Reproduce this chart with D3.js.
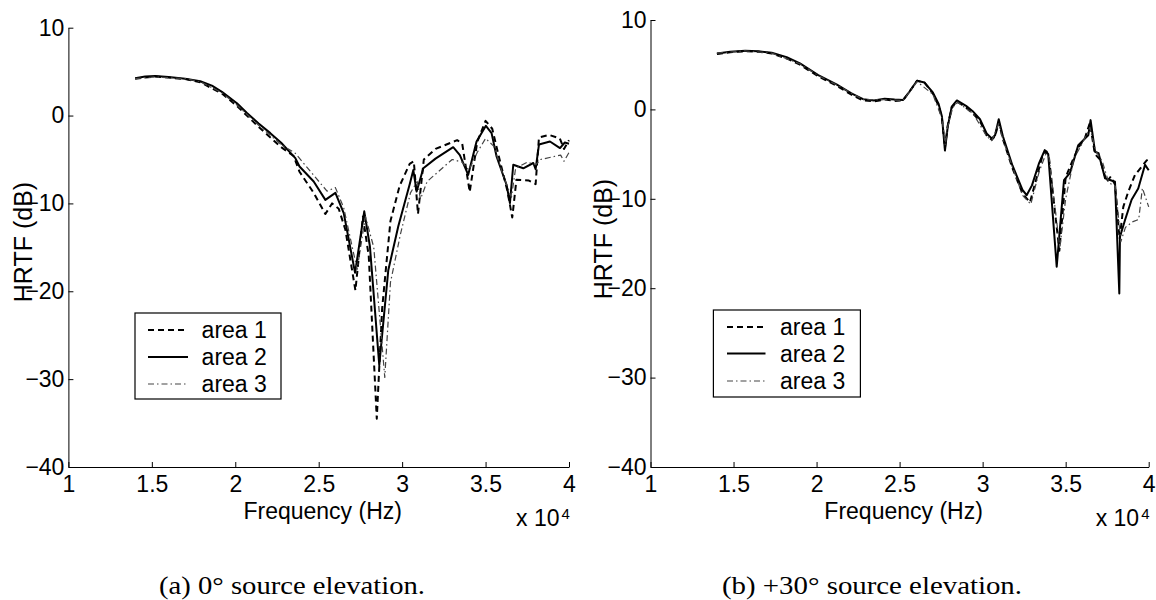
<!DOCTYPE html>
<html>
<head>
<meta charset="utf-8">
<script src="https://cdn.jsdelivr.net/npm/d3@7"></script>
<style>
  html, body { margin: 0; padding: 0; background: #fff; }
  svg { display: block; }
  text { font-family: "Liberation Sans", Arial, Helvetica, sans-serif; fill: #000; }
  .caption { font-family: "Liberation Serif", "Times New Roman", serif; }
</style>
</head>
<body>
<svg id="fig" width="1156" height="600"></svg>
<script>
// Frequency axis in units of 10^4 Hz, HRTF magnitude in dB.
const xTickValues = [1, 1.5, 2, 2.5, 3, 3.5, 4];
const yTickValues = [-40, -30, -20, -10, 0, 10];
const seriesNames = ["area 1", "area 2", "area 3"];

// (a) 0° source elevation
const freqA1 = [1.40,1.52,1.70,1.79,1.92,2.01,2.14,2.275,2.35,2.385,2.47,2.54,2.58,2.62,2.66,2.72,2.765,2.80,2.848,2.88,2.93,2.985,3.045,3.07,3.095,3.13,3.20,3.33,3.36,3.405,3.45,3.50,3.54,3.58,3.63,3.66,3.685,3.76,3.80,3.82,3.88,3.945,3.97,4.00];
const hrtfA1 = [4.2,4.45,4.15,3.8,2.5,1.1,-1.3,-3.6,-4.6,-6.4,-8.8,-11.2,-10.0,-10.6,-13.0,-19.9,-11.5,-16.0,-34.5,-22.0,-12.0,-8.0,-5.5,-5.2,-11.2,-5.0,-3.8,-2.8,-3.2,-8.7,-3.0,-0.6,-1.5,-4.7,-8.5,-11.6,-7.3,-7.4,-7.8,-2.5,-2.2,-2.6,-3.8,-2.8];
const freqA2 = [1.40,1.46,1.52,1.60,1.70,1.79,1.86,1.92,2.01,2.07,2.14,2.21,2.275,2.36,2.385,2.47,2.54,2.60,2.65,2.718,2.773,2.807,2.863,2.917,2.977,3.047,3.067,3.087,3.127,3.20,3.306,3.346,3.396,3.446,3.502,3.536,3.566,3.626,3.646,3.666,3.726,3.786,3.80,3.82,3.886,3.946,3.975,4.00];
const hrtfA2 = [4.25,4.45,4.5,4.4,4.2,3.9,3.4,2.7,1.4,0.3,-0.9,-2.0,-3.1,-4.85,-5.8,-7.5,-9.6,-8.8,-11.1,-17.9,-10.9,-14.9,-28.4,-17.6,-12.6,-7.7,-6.2,-8.65,-6.0,-4.9,-3.6,-4.5,-6.75,-2.95,-1.17,-2.0,-4.66,-7.9,-9.97,-5.6,-6.0,-5.4,-6.1,-3.3,-2.95,-3.7,-3.07,-3.2];
const freqA3 = [1.40,1.52,1.70,1.79,1.92,2.01,2.14,2.275,2.36,2.47,2.55,2.60,2.65,2.73,2.78,2.83,2.896,2.93,2.99,3.05,3.09,3.11,3.15,3.30,3.36,3.40,3.45,3.50,3.55,3.60,3.655,3.68,3.75,3.80,3.83,3.90,3.95,3.97,4.00];
const hrtfA3 = [4.2,4.4,4.2,3.85,2.6,1.2,-1.1,-3.3,-4.3,-6.8,-8.6,-8.2,-10.5,-17.5,-11.5,-15.0,-29.8,-19.0,-13.5,-8.8,-7.5,-9.5,-7.5,-5.0,-5.3,-6.2,-4.2,-2.6,-3.5,-6.5,-9.3,-6.0,-5.3,-5.6,-5.0,-4.7,-4.5,-5.2,-4.2];

// (b) +30° source elevation
const freqB1 = [1.40,1.48,1.57,1.65,1.73,1.82,1.90,2.01,2.12,2.21,2.28,2.345,2.41,2.47,2.52,2.56,2.605,2.65,2.70,2.735,2.755,2.773,2.79,2.814,2.845,2.90,2.944,2.984,3.024,3.055,3.075,3.097,3.122,3.18,3.24,3.285,3.32,3.36,3.385,3.40,3.462,3.50,3.54,3.576,3.616,3.646,3.676,3.707,3.747,3.772,3.797,3.825,3.847,3.877,3.917,3.958,3.988,4.00];
const hrtfB1 = [6.2,6.4,6.5,6.45,6.25,5.7,5.0,3.7,2.65,1.65,1.0,0.9,1.1,0.95,1.0,2.0,3.2,3.0,1.8,0.4,-1.0,-4.3,-1.8,0.2,0.9,0.2,-0.5,-1.3,-2.9,-3.4,-3.0,-1.4,-3.3,-6.6,-9.4,-10.4,-8.0,-5.2,-4.7,-5.5,-15.8,-7.6,-5.8,-4.3,-3.2,-1.5,-5.0,-5.6,-8.1,-7.5,-8.4,-14.5,-10.9,-9.2,-7.35,-6.4,-5.7,-5.6];
const freqB2 = [1.40,1.48,1.57,1.65,1.73,1.82,1.90,2.01,2.12,2.21,2.28,2.345,2.41,2.47,2.52,2.56,2.605,2.65,2.70,2.735,2.755,2.773,2.79,2.814,2.845,2.90,2.944,2.984,3.024,3.055,3.075,3.097,3.122,3.18,3.24,3.265,3.297,3.34,3.374,3.395,3.446,3.49,3.526,3.576,3.636,3.65,3.677,3.698,3.737,3.767,3.797,3.823,3.827,3.857,3.897,3.937,3.978,4.00];
const hrtfB2 = [6.26,6.45,6.56,6.5,6.33,5.85,5.14,3.84,2.8,1.8,1.15,1.0,1.19,1.1,1.05,2.0,3.2,3.0,1.9,0.6,-0.8,-4.6,-1.9,0.3,1.0,0.4,-0.27,-1.1,-2.7,-3.25,-2.9,-1.1,-3.0,-6.3,-9.0,-9.6,-8.5,-6.0,-4.55,-5.0,-17.6,-7.9,-7.1,-4.0,-2.9,-1.2,-4.74,-4.9,-7.7,-7.9,-8.1,-20.6,-14.25,-12.4,-10.1,-8.84,-6.2,-6.8];
const freqB3 = [1.40,1.57,1.73,1.90,2.01,2.12,2.28,2.41,2.52,2.605,2.70,2.755,2.775,2.79,2.82,2.85,2.944,3.024,3.055,3.097,3.122,3.24,3.29,3.34,3.38,3.40,3.465,3.50,3.55,3.60,3.646,3.68,3.72,3.76,3.80,3.832,3.86,3.90,3.94,3.962,4.00];
const hrtfB3 = [6.3,6.55,6.3,5.1,3.8,2.75,1.1,1.1,1.0,3.1,1.7,-1.0,-4.0,-1.9,0.2,0.8,-0.5,-3.0,-3.5,-1.6,-3.4,-9.6,-10.6,-7.0,-5.0,-5.4,-15.5,-10.0,-5.5,-3.8,-2.0,-4.6,-5.8,-8.2,-8.6,-14.8,-13.2,-12.6,-12.3,-8.8,-10.9];

const svg = d3.select("#fig");

const lineStyles = [
  { stroke: "#000", width: 2.0, dash: "6,4" },
  { stroke: "#000", width: 2.0, dash: null },
  { stroke: "#444", width: 1.2, dash: "6,3,1.5,3" }
];

const panels = [
  {
    x0: 68.4, x1: 569, yTop: 27.7, yBot: 467,
    series: [[freqA1, hrtfA1], [freqA2, hrtfA2], [freqA3, hrtfA3]],
    yLabelX: 32, yLabelY: 242,
    legend: { x: 135, y: 313, w: 146, h: 86, rows: [330, 357, 384], sx0: 148, sx1: 188, tx: 201.6 },
    caption: { text: "(a) 0° source elevation.", cx: 292, width: 266 }
  },
  {
    x0: 650.5, x1: 1148.7, yTop: 20, yBot: 467,
    series: [[freqB1, hrtfB1], [freqB2, hrtfB2], [freqB3, hrtfB3]],
    yLabelX: 612, yLabelY: 239,
    legend: { x: 713.4, y: 310, w: 147, h: 87, rows: [327, 353.5, 381], sx0: 727, sx1: 765.5, tx: 780 },
    caption: { text: "(b) +30° source elevation.", cx: 872, width: 300 }
  }
];

panels.forEach(p => {
  const x = d3.scaleLinear().domain([1, 4]).range([p.x0, p.x1]);
  const y = d3.scaleLinear().domain([-40, 10]).range([p.yBot, p.yTop]);
  const g = svg.append("g");

  // curves
  const line = d3.line().x(d => x(d[0])).y(d => y(d[1]));
  p.series.forEach(([fs, vs], i) => {
    const pts = fs.map((f, k) => [f, vs[k]]);
    const st = lineStyles[i];
    g.append("path")
      .datum(pts)
      .attr("d", line)
      .attr("fill", "none")
      .attr("stroke", st.stroke)
      .attr("stroke-width", st.width)
      .attr("stroke-linejoin", "round")
      .attr("stroke-dasharray", st.dash);
  });

  // axes with inward ticks
  const xAxis = d3.axisBottom(x).tickValues(xTickValues).tickSize(-5).tickSizeOuter(0)
    .tickPadding(9).tickFormat(d => String(d));
  const yAxis = d3.axisLeft(y).tickValues(yTickValues).tickSize(-5).tickSizeOuter(0)
    .tickPadding(4).tickFormat(d3.format("d"));

  const gx = g.append("g").attr("transform", `translate(0,${p.yBot})`).call(xAxis);
  const gy = g.append("g").attr("transform", `translate(${p.x0},0)`).call(yAxis);
  [gx, gy].forEach(a => {
    a.selectAll("path, line").attr("stroke", "#000").attr("stroke-width", 1);
    a.selectAll("text").style("font-size", "23px").attr("fill", "#000");
    a.attr("font-family", null);
  });

  // axis titles
  const xMid = (p.x0 + p.x1) / 2 + 4;
  g.append("text").attr("x", xMid).attr("y", 519).attr("text-anchor", "middle")
    .style("font-size", "23px").text("Frequency (Hz)");
  const sci = g.append("text").attr("x", p.x1 - 53).attr("y", 526).style("font-size", "23px");
  sci.append("tspan").text("x 10");
  sci.append("tspan").attr("dx", 2).attr("dy", -7).style("font-size", "15px").text("4");

  g.append("text")
    .attr("transform", `translate(${p.yLabelX},${p.yLabelY}) rotate(-90)`)
    .attr("text-anchor", "middle").style("font-size", "25px").text("HRTF (dB)");

  // legend
  const L = p.legend;
  const lg = g.append("g");
  lg.append("rect").attr("x", L.x).attr("y", L.y).attr("width", L.w).attr("height", L.h)
    .attr("fill", "#fff").attr("stroke", "#000").attr("stroke-width", 1.2);
  seriesNames.forEach((name, i) => {
    const st = lineStyles[i];
    lg.append("line").attr("x1", L.sx0).attr("x2", L.sx1).attr("y1", L.rows[i]).attr("y2", L.rows[i])
      .attr("stroke", st.stroke).attr("stroke-width", st.width).attr("stroke-dasharray", st.dash);
    lg.append("text").attr("x", L.tx).attr("y", L.rows[i] + 8).style("font-size", "23px").text(name);
  });

  // caption
  g.append("text").attr("class", "caption")
    .attr("x", p.caption.cx - p.caption.width / 2).attr("y", 594)
    .attr("textLength", p.caption.width).attr("lengthAdjust", "spacingAndGlyphs")
    .style("font-size", "26px").text(p.caption.text);
});
</script>
</body>
</html>
